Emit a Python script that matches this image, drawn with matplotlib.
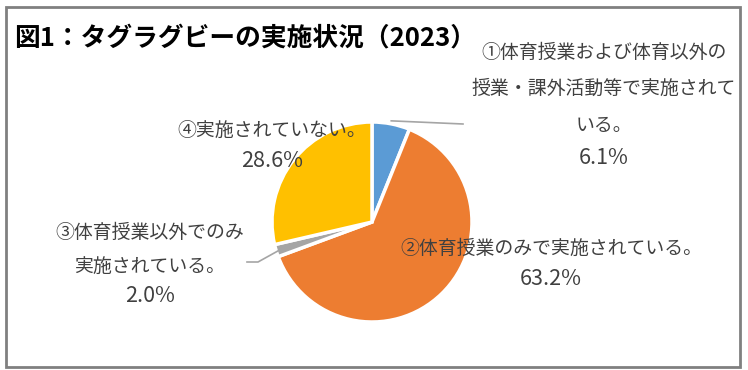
import numpy as np
import matplotlib
matplotlib.use('Agg')
import matplotlib.pyplot as plt
from matplotlib.patches import Rectangle

plt.rcParams['font.family'] = ['Noto Sans CJK JP', 'DejaVu Sans']

title = '図1：タグラグビーの実施状況（2023）'
shares = [6.1, 63.2, 2.0, 28.6]
colors = ['#5b9bd5', '#ed7d31', '#a5a5a5', '#ffc000']
label_lines = [
    ['①体育授業および体育以外の', '授業・課外活動等で実施されて', 'いる。'],
    ['②体育授業のみで実施されている。'],
    ['③体育授業以外でのみ', '実施されている。'],
    ['④実施されていない。'],
]

W, H = 748, 370
fig = plt.figure(figsize=(W / 100, H / 100), dpi=100)
ax = fig.add_axes([0, 0, 1, 1])

# outer frame
ax.add_patch(Rectangle((6, 7), 734, 360, fill=False, edgecolor='#808080', linewidth=2))

ax.text(14, 38, title, fontsize=18.5, fontweight='bold', color='black', va='center', ha='left')

# pie: y axis is inverted later, so counterclock=True draws clockwise on screen
cx, cy, r = 372, 222, 100
ax.pie(shares, colors=colors, startangle=-90, counterclock=True,
       center=(cx, cy), radius=r, frame=True,
       wedgeprops=dict(edgecolor='white', linewidth=2.5))
ax.set_xlim(0, W)
ax.set_ylim(H, 0)  # pixel coords, y downward
ax.set_aspect('equal')
ax.axis('off')

# label anchors (center x, first line y, line step)
anchors = [(604, 52, 36.5), (551, 248, 34), (150, 233, 33), (272, 130, 34)]
txt = '#404040'
for lines, share, (x, y0, step) in zip(label_lines, shares, anchors):
    for i, line in enumerate(lines):
        ax.text(x, y0 + i * step, line, fontsize=13.6, color=txt, ha='center', va='center')
    ax.text(x, y0 + len(lines) * step - 3, f'{share:.1f}%', fontsize=15.5,
            color=txt, ha='center', va='center')

# leader lines from wedge midpoints
cum = np.cumsum([0] + shares)
mids = (cum[:-1] + cum[1:]) / 2 / 100 * 2 * np.pi
def edge_point(k, rr=r + 1):
    a = mids[k]
    return cx + rr * np.sin(a), cy - rr * np.cos(a)

x1, y1 = edge_point(0)
ax.plot([x1, 463], [y1 - 2, 124], color='#a5a5a5', linewidth=1.2)
x3, y3 = edge_point(2, r - 3)
ax.plot([x3, 258, 247], [y3, 262, 262], color='#a5a5a5', linewidth=1.2)

fig.savefig('out.png', dpi=100)
